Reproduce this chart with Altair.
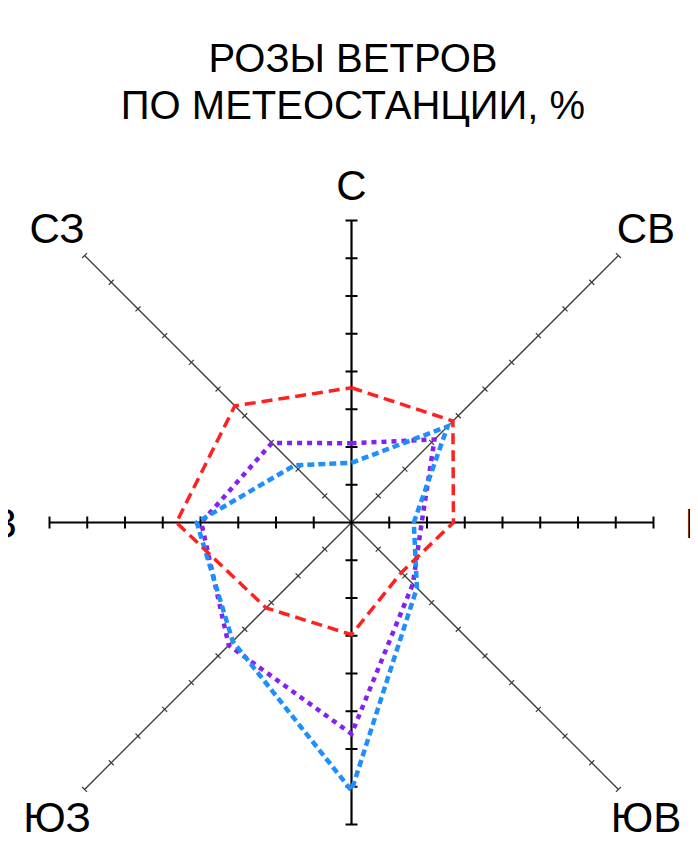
import math
import altair as alt
import pandas as pd

# ---------------- data ----------------
directions = ["С", "СВ", "В", "ЮВ", "Ю", "ЮЗ", "З", "СЗ"]
bearings = [0, 45, 90, 135, 180, 225, 270, 315]
ray_ticks = [8, 10, 8, 10, 8, 10, 8, 10]

title_lines = ["РОЗЫ ВЕТРОВ", "ПО МЕТЕОСТАНЦИИ, %"]

series_names = ["s1", "s2", "s3"]
red_vals = [3.57, 3.80, 2.70, 1.87, 2.97, 3.20, 4.64, 4.37]
purple_vals = [2.10, 3.11, 1.86, 2.30, 5.60, 4.60, 3.98, 2.98]
blue_vals = [1.58, 3.60, 1.65, 2.45, 7.10, 4.45, 4.10, 2.14]

# ---------------- layout ----------------
UNIT = 37.75          # px per tick
W, H, PAD_TOP = 682, 676, 150
CX, CY = 343.5, 364.5  # rose centre inside plot area (px)
x_dom = [-CX / UNIT, (W - CX) / UNIT]
y_dom = [-(H - CY) / UNIT, CY / UNIT]

def unit_vec(b):
    r = math.radians(b)
    return math.sin(r), math.cos(r)

rays, ticks, labels = [], [], []
for d, b, n in zip(directions, bearings, ray_ticks):
    ux, uy = unit_vec(b)
    kind = "diag" if b % 90 else "orth"
    rays.append(dict(kind=kind, x=0.0, y=0.0, x2=n * ux, y2=n * uy))
    half = (3.5 if kind == "diag" else 6.0) / UNIT
    for k in range(1, n + 1):
        px, py = k * ux, k * uy
        ticks.append(dict(kind=kind, x=px - half * uy, y=py + half * ux,
                          x2=px + half * uy, y2=py - half * ux))
    if kind == "diag":
        gap = 1.03
    elif b in (90, 270):
        gap = 1.2
    else:
        gap = 0.95
    labels.append(dict(label=d, x=(n + gap) * ux, y=(n + gap) * uy))

rays = pd.DataFrame(rays)
ticks = pd.DataFrame(ticks)
labels = pd.DataFrame(labels)

def polygon(vals, name):
    rows = []
    for i in range(len(vals) + 1):
        j = i % len(vals)
        ux, uy = unit_vec(bearings[j])
        rows.append(dict(series=name, order=i, x=vals[j] * ux, y=vals[j] * uy))
    return pd.DataFrame(rows)

xs = alt.Scale(domain=x_dom, nice=False, zero=False)
ys = alt.Scale(domain=y_dom, nice=False, zero=False)
X = alt.X("x:Q", scale=xs, axis=None)
Y = alt.Y("y:Q", scale=ys, axis=None)

def rule_layer(df, width, color):
    return alt.Chart(df).mark_rule(strokeWidth=width, color=color).encode(
        x=X, y=Y, x2="x2:Q", y2="y2:Q")

orth_rays = rule_layer(rays[rays.kind == "orth"], 2.2, "#000000")
diag_rays = rule_layer(rays[rays.kind == "diag"], 1.3, "#3a3a3a")
orth_ticks = rule_layer(ticks[ticks.kind == "orth"], 2.0, "#000000")
diag_ticks = rule_layer(ticks[ticks.kind == "diag"], 1.2, "#3a3a3a")

def line_layer(vals, name, color, dash, width):
    return alt.Chart(polygon(vals, name)).mark_line(
        color=color, strokeDash=dash, strokeWidth=width, strokeCap="butt",
        interpolate="linear").encode(x=X, y=Y, order="order:Q")

purple = line_layer(purple_vals, series_names[1], "#8420f0", [5, 5], 4.5)
blue = line_layer(blue_vals, series_names[2], "#1e8fff", [7, 4], 4.5)
red = line_layer(red_vals, series_names[0], "#ff2020", [11, 6], 3.5)

text = alt.Chart(labels).mark_text(
    font="Liberation Sans", fontSize=42, align="center",
    baseline="alphabetic", dy=15, color="#000000").encode(
    x=X, y=Y, text="label:N")

chart = alt.layer(
    diag_rays, diag_ticks, orth_rays, orth_ticks, purple, blue, red, text
).properties(
    width=W, height=H,
    autosize=alt.AutoSizeParams(type="none"),
    padding={"left": 0, "right": 0, "top": PAD_TOP, "bottom": 0},
    title=alt.TitleParams(
        text=title_lines, font="Liberation Sans", fontSize=40,
        fontWeight="normal", color="#000000", anchor="middle",
        frame="group", lineHeight=47, offset=31, dx=4),
).configure_view(stroke=None)

chart.save("out.html", embed_options={"renderer": "svg", "actions": False})
